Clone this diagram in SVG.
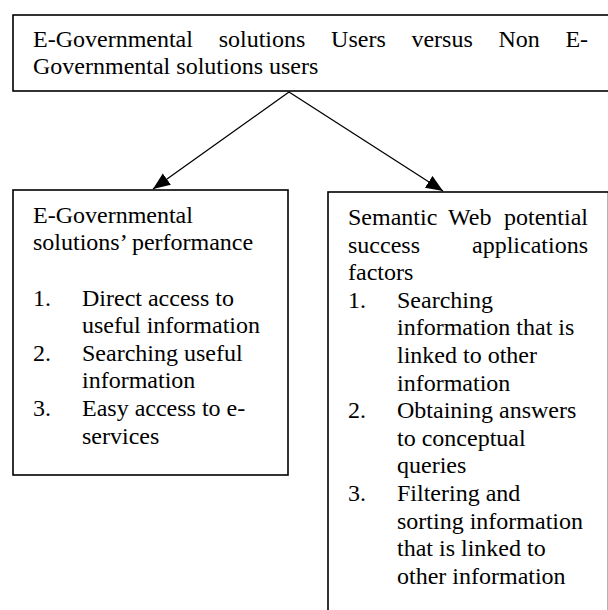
<svg xmlns="http://www.w3.org/2000/svg" width="608" height="610" viewBox="0 0 608 610">
<style>
.box{fill:#fff;stroke:#000;stroke-width:1.6}
.t{font-family:"Liberation Serif","Times New Roman",serif;font-size:24px;fill:#000}
.con{stroke:#000;stroke-width:1.3;fill:none}
</style>
<defs>
<marker id="ah" markerUnits="userSpaceOnUse" markerWidth="18" markerHeight="16" refX="17" refY="7" orient="auto">
<path d="M0,0 L17,7 L0,14 Z" fill="#000"/>
</marker>
</defs>
<rect width="608" height="610" fill="#fff"/>
<g id="top">
<rect class="box" x="13" y="15" width="596" height="76"/>
<text class="t" y="46.7"><tspan x="33">E-Governmental</tspan><tspan x="218.7">solutions</tspan><tspan x="331.1">Users</tspan><tspan x="411.4">versus</tspan><tspan x="498.4">Non</tspan><tspan x="565.4">E-</tspan></text>
<text class="t" x="33" y="74.3">Governmental solutions users</text>
</g>
<g id="left">
<rect class="box" x="13" y="190" width="275" height="285"/>
<text class="t" x="33" y="222.7">E-Governmental</text>
<text class="t" x="33" y="250.3">solutions’ performance</text>
<text class="t" x="33" y="305.5">1.</text>
<text class="t" x="82" y="305.5">Direct access to</text>
<text class="t" x="82" y="333.1">useful information</text>
<text class="t" x="33" y="360.7">2.</text>
<text class="t" x="82" y="360.7">Searching useful</text>
<text class="t" x="82" y="388.3">information</text>
<text class="t" x="33" y="415.9">3.</text>
<text class="t" x="82" y="415.9">Easy access to e-</text>
<text class="t" x="82" y="443.5">services</text>
</g>
<g id="right">
<rect class="box" x="328" y="192" width="280.5" height="430"/>
<text class="t" y="225"><tspan x="348">Semantic</tspan><tspan x="448">Web</tspan><tspan x="504">potential</tspan></text>
<text class="t" y="252.6"><tspan x="348">success</tspan><tspan x="472">applications</tspan></text>
<text class="t" x="348" y="280.2">factors</text>
<text class="t" x="348" y="307.8">1.</text>
<text class="t" x="397" y="307.8">Searching</text>
<text class="t" x="397" y="335.4">information that is</text>
<text class="t" x="397" y="363">linked to other</text>
<text class="t" x="397" y="390.6">information</text>
<text class="t" x="348" y="418.2">2.</text>
<text class="t" x="397" y="418.2">Obtaining answers</text>
<text class="t" x="397" y="445.8">to conceptual</text>
<text class="t" x="397" y="473.4">queries</text>
<text class="t" x="348" y="501">3.</text>
<text class="t" x="397" y="501">Filtering and</text>
<text class="t" x="397" y="528.6">sorting information</text>
<text class="t" x="397" y="556.2">that is linked to</text>
<text class="t" x="397" y="583.8">other information</text>
</g>
<g id="connectors">
<line class="con" x1="289" y1="92" x2="153" y2="189" marker-end="url(#ah)"/>
<line class="con" x1="289" y1="92" x2="443" y2="191" marker-end="url(#ah)"/>
</g>
</svg>
